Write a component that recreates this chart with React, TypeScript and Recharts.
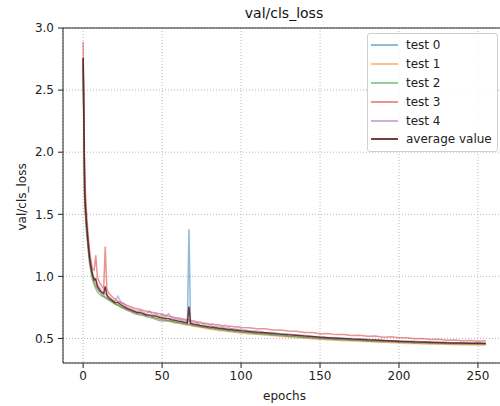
import React from 'react';
import {
  LineChart,
  Line,
  XAxis,
  YAxis,
  CartesianGrid,
  ReferenceLine,
} from 'recharts';

const epochs = [
  0, 1, 2, 3, 4, 5, 6, 7, 8, 9, 10, 11, 12, 13, 14, 15, 16,
  18, 20, 22, 24, 26, 28, 30, 32, 34, 36, 38, 40, 42, 44, 46, 48, 50, 52, 54, 56, 58, 60, 62, 64, 66,
  67, 68, 70, 72, 74, 76, 78, 80, 82, 84, 86, 88, 90, 92, 94, 96, 98, 100,
  105, 110, 115, 120, 125, 130, 135, 140, 145, 150, 155, 160, 165, 170, 175, 180, 185, 190, 195, 200,
  205, 210, 215, 220, 225, 230, 235, 240, 245, 250, 255,
];

const test0 = [
  2.76, 1.62, 1.4, 1.26, 1.13, 1.05, 0.99, 0.95, 0.92, 0.9, 0.88, 0.87, 0.85, 0.84, 0.83, 0.82, 0.815,
  0.8, 0.78, 0.77, 0.75, 0.74, 0.725, 0.72, 0.7, 0.695, 0.69, 0.685, 0.675, 0.67, 0.665, 0.655, 0.645, 0.64, 0.645, 0.64, 0.635, 0.63, 0.625, 0.62, 0.615, 0.61,
  1.38, 0.61, 0.6, 0.603, 0.595, 0.59, 0.588, 0.58, 0.582, 0.575, 0.57, 0.571, 0.566, 0.562, 0.563, 0.556, 0.554, 0.55,
  0.547, 0.538, 0.536, 0.528, 0.524, 0.516, 0.514, 0.506, 0.505, 0.496, 0.497, 0.49, 0.49, 0.484, 0.484, 0.478, 0.478, 0.473, 0.473, 0.468,
  0.468, 0.464, 0.465, 0.46, 0.461, 0.457, 0.458, 0.455, 0.456, 0.454, 0.455,
];

const test1 = [
  2.72, 1.6, 1.42, 1.27, 1.15, 1.06, 1.0, 0.96, 0.93, 0.91, 0.89, 0.875, 0.86, 0.85, 0.84, 0.83, 0.82,
  0.8, 0.78, 0.765, 0.75, 0.74, 0.73, 0.715, 0.71, 0.7, 0.69, 0.69, 0.68, 0.67, 0.665, 0.66, 0.655, 0.65, 0.64, 0.64, 0.635, 0.625, 0.625, 0.62, 0.615, 0.61,
  0.61, 0.605, 0.598, 0.595, 0.588, 0.587, 0.578, 0.577, 0.57, 0.572, 0.563, 0.564, 0.558, 0.557, 0.551, 0.552, 0.546, 0.546,
  0.536, 0.535, 0.526, 0.524, 0.516, 0.514, 0.505, 0.505, 0.496, 0.496, 0.488, 0.489, 0.482, 0.483, 0.476, 0.477, 0.47, 0.471, 0.465, 0.466,
  0.46, 0.461, 0.456, 0.457, 0.453, 0.454, 0.45, 0.452, 0.448, 0.45, 0.447,
];

const test2 = [
  2.7, 1.58, 1.38, 1.24, 1.11, 1.03, 0.97, 0.93, 0.9, 0.875, 0.86, 0.85, 0.84, 0.835, 0.83, 0.82, 0.81,
  0.795, 0.78, 0.77, 0.755, 0.745, 0.735, 0.725, 0.715, 0.705, 0.7, 0.695, 0.685, 0.68, 0.675, 0.665, 0.66, 0.655, 0.65, 0.645, 0.64, 0.635, 0.63, 0.628, 0.622, 0.618,
  0.615, 0.612, 0.609, 0.601, 0.6, 0.591, 0.592, 0.583, 0.584, 0.576, 0.577, 0.57, 0.57, 0.563, 0.564, 0.557, 0.558, 0.551,
  0.549, 0.539, 0.538, 0.529, 0.528, 0.519, 0.518, 0.509, 0.508, 0.5, 0.5, 0.492, 0.493, 0.486, 0.487, 0.48, 0.481, 0.475, 0.476, 0.47,
  0.472, 0.466, 0.468, 0.462, 0.465, 0.459, 0.462, 0.457, 0.46, 0.456, 0.459,
];

const test3 = [
  2.89, 1.8, 1.55, 1.36, 1.22, 1.12, 1.06, 1.05, 1.17, 1.0, 0.96, 0.94, 0.92, 0.9, 1.24, 0.9, 0.87,
  0.84, 0.82, 0.8, 0.79, 0.78, 0.765, 0.755, 0.745, 0.74, 0.735, 0.725, 0.72, 0.715, 0.71, 0.705, 0.7, 0.695, 0.685, 0.68, 0.675, 0.67, 0.665, 0.66, 0.655, 0.65,
  0.65, 0.645, 0.642, 0.633, 0.632, 0.623, 0.623, 0.615, 0.617, 0.61, 0.611, 0.603, 0.604, 0.598, 0.599, 0.592, 0.594, 0.588,
  0.587, 0.578, 0.579, 0.569, 0.569, 0.56, 0.559, 0.549, 0.549, 0.539, 0.54, 0.531, 0.532, 0.524, 0.526, 0.517, 0.519, 0.51, 0.513, 0.505,
  0.506, 0.498, 0.5, 0.492, 0.493, 0.485, 0.488, 0.481, 0.484, 0.478, 0.481,
];

const test4 = [
  2.75, 1.68, 1.46, 1.31, 1.18, 1.09, 1.03, 0.99, 0.96, 0.94, 0.92, 0.9, 0.88, 0.87, 0.86, 0.85, 0.84,
  0.82, 0.8, 0.84, 0.79, 0.77, 0.75, 0.74, 0.73, 0.72, 0.725, 0.71, 0.7, 0.72, 0.69, 0.7, 0.68, 0.69, 0.675, 0.7, 0.665, 0.66, 0.655, 0.65, 0.645, 0.64,
  0.638, 0.635, 0.628, 0.627, 0.618, 0.617, 0.608, 0.607, 0.598, 0.599, 0.592, 0.592, 0.585, 0.586, 0.578, 0.579, 0.572, 0.573,
  0.563, 0.56, 0.55, 0.548, 0.538, 0.536, 0.526, 0.525, 0.516, 0.515, 0.507, 0.507, 0.499, 0.5, 0.492, 0.493, 0.486, 0.487, 0.48, 0.482,
  0.475, 0.477, 0.471, 0.473, 0.467, 0.469, 0.464, 0.467, 0.462, 0.465, 0.46,
];

const average = [
  2.76, 1.66, 1.45, 1.29, 1.16, 1.07, 1.01, 0.97, 0.98, 0.92, 0.9, 0.88, 0.87, 0.86, 0.92, 0.85, 0.83,
  0.81, 0.79, 0.79, 0.77, 0.755, 0.74, 0.73, 0.72, 0.71, 0.71, 0.7, 0.69, 0.69, 0.68, 0.68, 0.67, 0.666, 0.66, 0.661, 0.651, 0.646, 0.64, 0.636, 0.63, 0.626,
  0.757, 0.621, 0.615, 0.612, 0.605, 0.601, 0.596, 0.592, 0.59, 0.586, 0.582, 0.58, 0.577, 0.573, 0.572, 0.567, 0.566, 0.562,
  0.556, 0.55, 0.546, 0.54, 0.535, 0.529, 0.525, 0.519, 0.515, 0.509, 0.506, 0.502, 0.499, 0.495, 0.493, 0.489, 0.487, 0.483, 0.482, 0.478,
  0.476, 0.473, 0.472, 0.469, 0.468, 0.465, 0.464, 0.463, 0.462, 0.461, 0.46,
];

const xTicks = [0, 50, 100, 150, 200, 250];
const yTicks = [0.5, 1.0, 1.5, 2.0, 2.5, 3.0];

const series = [
  { key: 'test0', name: 'test 0', values: test0, color: '#1f77b4', opacity: 0.5 },
  { key: 'test1', name: 'test 1', values: test1, color: '#ff7f0e', opacity: 0.5 },
  { key: 'test2', name: 'test 2', values: test2, color: '#2ca02c', opacity: 0.5 },
  { key: 'test3', name: 'test 3', values: test3, color: '#d62728', opacity: 0.5 },
  { key: 'test4', name: 'test 4', values: test4, color: '#9467bd', opacity: 0.5 },
  { key: 'average', name: 'average value', values: average, color: '#5e1c1c', opacity: 0.85 },
];

const data = epochs.map((e, i) => {
  const row: Record<string, number> = { epoch: e };
  for (const s of series) row[s.key] = s.values[i];
  return row;
});

const FONT = '"DejaVu Sans", sans-serif';

function LegendBox(): React.ReactElement {
  return (
    <div
      style={{
        position: 'absolute',
        top: 33,
        left: 367,
        width: 131,
        boxSizing: 'border-box',
        background: 'rgba(255,255,255,0.85)',
        border: '1px solid #d0d0d0',
        borderRadius: 3,
        padding: '2px 0 2px 3px',
        fontFamily: FONT,
        fontSize: 12,
        color: '#222',
      }}
    >
      {series.map((s) => (
        <div key={s.key} style={{ display: 'flex', alignItems: 'center', height: 18.8 }}>
          <svg width={27} height={4} style={{ marginRight: 8 }}>
            <line x1={0} y1={2} x2={27} y2={2} stroke={s.color} strokeOpacity={s.opacity} strokeWidth={2} />
          </svg>
          <span>{s.name}</span>
        </div>
      ))}
    </div>
  );
}

export default function App(): React.ReactElement {
  return (
    <div style={{ position: 'absolute', left: 0, top: 0, width: 500, height: 406, overflow: 'hidden', background: '#fff' }}>
      <div
        style={{
          position: 'absolute',
          top: 5,
          left: 284,
          transform: 'translateX(-50%)',
          fontFamily: FONT,
          fontSize: 14,
          color: '#111',
          whiteSpace: 'nowrap',
        }}
      >
        val/cls_loss
      </div>
      <LineChart
        width={506}
        height={406}
        data={data}
        margin={{ top: 28, right: 0, bottom: 0, left: 0 }}
        style={{ fontFamily: FONT }}
      >
        <CartesianGrid stroke="#b8b8b8" strokeDasharray="1 2" />
        <XAxis
          dataKey="epoch"
          type="number"
          domain={[-12.75, 267.75]}
          ticks={xTicks}
          height={43}
          tickSize={5}
          tickMargin={3}
          stroke="#222"
          tick={{ fontSize: 12, fill: '#222' }}
          allowDataOverflow
          label={{ value: 'epochs', position: 'insideBottom', offset: 6, fontSize: 12, fill: '#222' }}
        />
        <YAxis
          type="number"
          domain={[0.3025, 3.0]}
          ticks={yTicks}
          width={63}
          tickSize={5}
          tickMargin={4}
          stroke="#222"
          tick={{ fontSize: 12, fill: '#222' }}
          tickFormatter={(v: number) => v.toFixed(1)}
          allowDataOverflow
          label={{ value: 'val/cls_loss', angle: -90, position: 'insideLeft', offset: 22, fontSize: 12, fill: '#222', dy: 35 }}
        />
        <ReferenceLine y={3.0} stroke="#222" strokeWidth={1} />
        {series.map((s) => (
          <Line
            key={s.key}
            dataKey={s.key}
            name={s.name}
            type="linear"
            stroke={s.color}
            strokeOpacity={s.opacity}
            strokeWidth={1.5}
            dot={false}
            isAnimationActive={false}
          />
        ))}
      </LineChart>
      <LegendBox />
    </div>
  );
}
